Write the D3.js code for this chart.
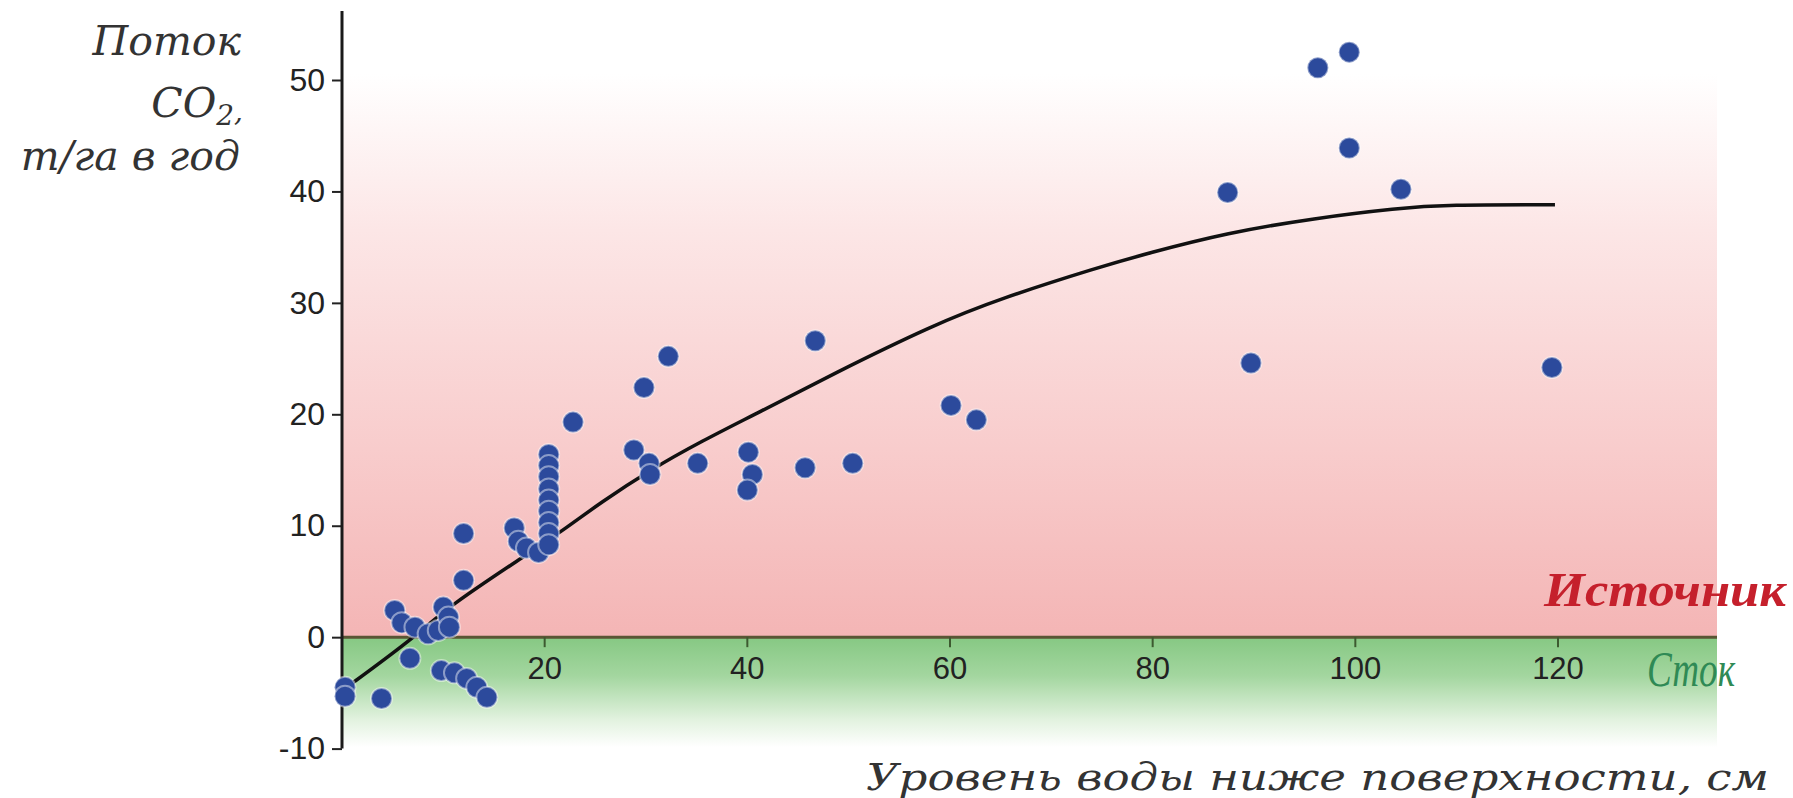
<!DOCTYPE html>
<html>
<head>
<meta charset="utf-8">
<script src="https://cdnjs.cloudflare.com/ajax/libs/d3/7.8.5/d3.min.js"></script>
<style>
  html, body { margin: 0; padding: 0; background: #fff; }
  svg { display: block; }
</style>
</head>
<body>
<div id="chart"></div>
<script>
// measured points: water level (cm) vs CO2 flux (t/ha per year)
var waterLevel = [0.3, 0.3, 3.9, 6.7, 5.2, 5.9, 7.2, 8.5, 9.5, 10.0, 10.5, 10.6, 12.0, 12.0,
  9.8, 11.1, 12.3, 13.3, 14.3, 17.0, 17.4, 18.2, 19.4,
  20.4, 20.4, 20.4, 20.4, 20.4, 20.4, 20.4, 20.4, 20.4,
  22.8, 28.8, 29.8, 30.3, 30.4, 32.2, 35.1, 40.1, 40.5, 40.0, 46.7, 45.7, 50.4,
  60.1, 62.6, 87.4, 89.7, 96.3, 99.4, 99.4, 104.5, 119.4]
var co2Flux = [-4.5, -5.3, -5.5, -1.9, 2.4, 1.3, 0.9, 0.3, 0.6, 2.7, 1.8, 0.9, 9.3, 5.1,
  -3.0, -3.2, -3.7, -4.5, -5.4, 9.8, 8.6, 8.0, 7.6,
  16.4, 15.4, 14.4, 13.3, 12.3, 11.3, 10.3, 9.3, 8.3,
  19.3, 16.8, 22.4, 15.6, 14.6, 25.2, 15.6, 16.6, 14.6, 13.2, 26.6, 15.2, 15.6,
  20.8, 19.5, 39.9, 24.6, 51.1, 52.5, 43.9, 40.2, 24.2]

// fitted curve
var fitX = [0, 7.2, 10.4, 18.4, 22.3, 25.4, 30.4, 35.5, 41.2, 48.4, 58.3, 65, 74.7, 79.3, 87.4, 96, 104.2, 109, 119.7]
var fitY = [-4.8, 0, 2.7, 7.5, 9.9, 12.0, 15.0, 17.6, 20.2, 23.6, 28.0, 30.4, 33.2, 34.4, 36.3, 37.6, 38.5, 38.8, 38.8]

var xTicks = [20, 40, 60, 80, 100, 120]
var yTicks = [-10, 0, 10, 20, 30, 40, 50]

var yTitle = ['Поток', 'CO', 'т/га в год']
var xTitle = 'Уровень воды ниже поверхности, см'
var sourceLabel = 'Источник'
var sinkLabel = 'Сток'

var W = 1793, H = 798
var svg = d3.select('#chart').append('svg')
    .attr('width', W)
    .attr('height', H)

var x = d3.scaleLinear().domain([0, 120]).range([342, 1558])
var y = d3.scaleLinear().domain([-10, 50]).range([748.6, 80])
var bgRight = 1717

var defs = svg.append('defs')
var pinkGrad = defs.append('linearGradient').attr('id', 'pinkGrad')
    .attr('x1', 0).attr('y1', 0).attr('x2', 0).attr('y2', 1)
pinkGrad.selectAll('stop')
    .data([[0, '#ffffff'], [0.1, '#ffffff'], [0.35, '#fce6e6'], [0.7, '#f8cccc'], [1, '#f4b5b5']])
    .enter().append('stop')
    .attr('offset', function(d){ return d[0] })
    .attr('stop-color', function(d){ return d[1] })
var greenGrad = defs.append('linearGradient').attr('id', 'greenGrad')
    .attr('x1', 0).attr('y1', 0).attr('x2', 0).attr('y2', 1)
greenGrad.selectAll('stop')
    .data([[0, '#86c883'], [0.35, '#a3d69f'], [0.75, '#e2f2df'], [1, '#ffffff']])
    .enter().append('stop')
    .attr('offset', function(d){ return d[0] })
    .attr('stop-color', function(d){ return d[1] })

// source / sink zones
svg.append('rect')
    .attr('x', x(0)).attr('y', 11)
    .attr('width', bgRight - x(0)).attr('height', y(0) - 11)
    .attr('fill', 'url(#pinkGrad)')
svg.append('rect')
    .attr('x', x(0)).attr('y', y(0))
    .attr('width', bgRight - x(0)).attr('height', 110)
    .attr('fill', 'url(#greenGrad)')

// zero line with ticks hanging down
svg.append('line')
    .attr('x1', x(0)).attr('x2', bgRight)
    .attr('y1', y(0)).attr('y2', y(0))
    .attr('stroke', '#5a5534').attr('stroke-width', 3)

svg.selectAll('.xtick').data(xTicks).enter().append('line')
    .attr('class', 'xtick')
    .attr('x1', function(d){ return x(d) }).attr('x2', function(d){ return x(d) })
    .attr('y1', y(0)).attr('y2', y(0) + 10)
    .attr('stroke', '#3d5a30').attr('stroke-width', 2)

svg.selectAll('.xlab').data(xTicks).enter().append('text')
    .attr('class', 'xlab')
    .attr('x', function(d){ return x(d) })
    .attr('y', y(0) + 42)
    .attr('text-anchor', 'middle')
    .attr('font-family', 'Liberation Sans, Arial, sans-serif')
    .attr('font-size', 31)
    .attr('fill', '#222')
    .text(function(d){ return d })

// y axis
var yAxis = d3.axisLeft(y).tickValues(yTicks).tickSize(10).tickPadding(7).tickFormat(d3.format('d'))
var gy = svg.append('g')
    .attr('transform', 'translate(' + x(0) + ',0)')
    .call(yAxis)
gy.select('.domain').remove()
gy.selectAll('.tick line').attr('stroke', '#222').attr('stroke-width', 2)
gy.selectAll('.tick text')
    .attr('font-family', 'Liberation Sans, Arial, sans-serif')
    .attr('font-size', 32)
    .attr('fill', '#222')
    .text(function(d){ return d < 0 ? '-' + Math.abs(d) : d })
svg.append('line')
    .attr('x1', x(0)).attr('x2', x(0))
    .attr('y1', 11).attr('y2', y(-10))
    .attr('stroke', '#1a1a1a').attr('stroke-width', 3)

// fitted curve
var line = d3.line()
    .x(function(d){ return x(d[0]) })
    .y(function(d){ return y(d[1]) })
    .curve(d3.curveBasis)
svg.append('path')
    .datum(d3.zip(fitX, fitY))
    .attr('d', line)
    .attr('fill', 'none')
    .attr('stroke', '#111')
    .attr('stroke-width', 3.5)

// points
svg.selectAll('.dot').data(d3.zip(waterLevel, co2Flux)).enter().append('circle')
    .attr('class', 'dot')
    .attr('cx', function(d){ return x(d[0]) })
    .attr('cy', function(d){ return y(d[1]) })
    .attr('r', 10.5)
    .attr('fill', '#2c4a9c')
    .attr('stroke', 'rgba(255,255,255,0.45)')
    .attr('stroke-width', 2)

// titles
var serif = 'DejaVu Serif, serif'
var yt = svg.append('g').attr('font-family', serif).attr('font-style', 'italic')
    .attr('font-size', 41).attr('fill', '#333').attr('text-anchor', 'end')
yt.append('text').attr('x', 241).attr('y', 55).text(yTitle[0])
var co = yt.append('text').attr('x', 243).attr('y', 117)
co.append('tspan').text(yTitle[1])
co.append('tspan').attr('font-size', 28).attr('dy', 8).text('2')
co.append('tspan').attr('font-size', 28).attr('dy', -4).text(',')
yt.append('text').attr('x', 240).attr('y', 170).text(yTitle[2])

svg.append('text')
    .attr('x', 866).attr('y', 790)
    .attr('font-family', serif).attr('font-style', 'italic')
    .attr('font-size', 37).attr('fill', '#333')
    .attr('textLength', 903).attr('lengthAdjust', 'spacingAndGlyphs')
    .text(xTitle)

svg.append('text')
    .attr('x', 1544).attr('y', 606)
    .attr('font-family', 'Liberation Serif, Times New Roman, serif')
    .attr('font-style', 'italic').attr('font-weight', 'bold')
    .attr('font-size', 48).attr('fill', '#c5202c')
    .attr('textLength', 242).attr('lengthAdjust', 'spacingAndGlyphs')
    .text(sourceLabel)

svg.append('text')
    .attr('x', 1647).attr('y', 686)
    .attr('font-family', 'Liberation Serif, Times New Roman, serif')
    .attr('font-style', 'italic')
    .attr('font-size', 50).attr('fill', '#2f8a55')
    .attr('textLength', 88).attr('lengthAdjust', 'spacingAndGlyphs')
    .text(sinkLabel)
</script>
</body>
</html>
